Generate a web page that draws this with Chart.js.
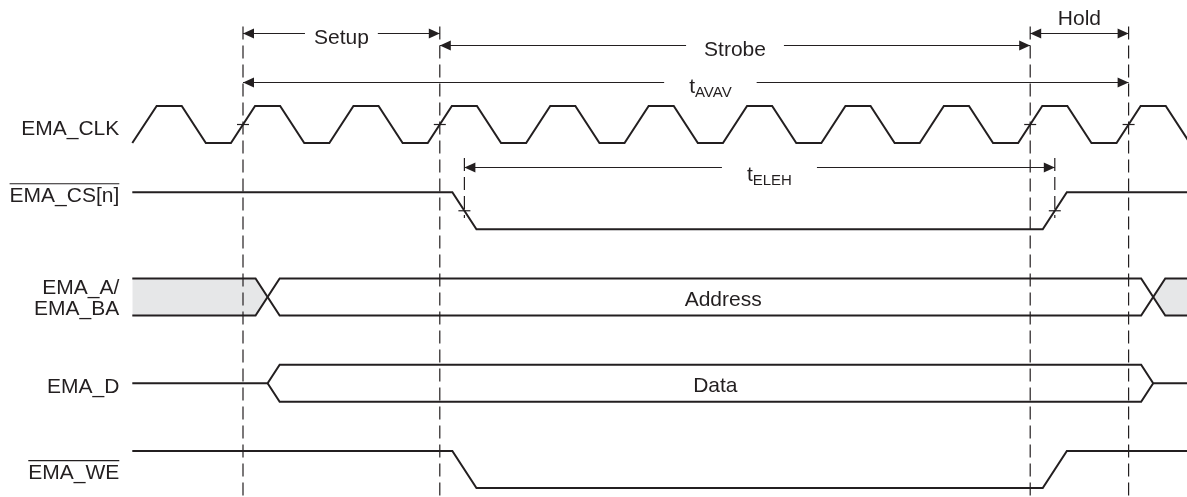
<!DOCTYPE html>
<html>
<head>
<meta charset="utf-8">
<script src="https://cdn.jsdelivr.net/npm/chart.js@4.4.0/dist/chart.umd.min.js"></script>
<style>
  html, body { margin: 0; padding: 0; background: #fff; }
  #wrap { width: 1187px; height: 497px; }
</style>
</head>
<body>
<div id="wrap"><canvas id="timing"></canvas></div>
<script>
// time is in EMA_CLK cycles, 0 = rising edge that starts Setup
const signalNames = ['EMA_CLK', 'EMA_CS[n]', 'EMA_A/\nEMA_BA', 'EMA_D', 'EMA_WE'];
const overlined   = [false, true, false, false, true];
const clkRise  = [-1, 0, 1, 2, 3, 4, 5, 6, 7, 8, 9];
const clkFall  = [-0.5, 0.5, 1.5, 2.5, 3.5, 4.5, 5.5, 6.5, 7.5, 8.5, 9.5];
const csEdges  = [2.25, 8.25];      // high -> low -> high
const weEdges  = [2.25, 8.25];
const addrEdges = [0.25, 9.25];     // address valid window
const dataEdges = [0.25, 9.25];     // data driven window
const refTimes  = [0, 2, 8, 9];     // dashed reference lines
const elehTimes = [2.25, 8.25];
const spanLabels = ['Setup', 'Strobe', 'Hold', 't|AVAV', 't|ELEH'];
const spanFrom   = [0, 2, 8, 0, 2.25];
const spanTo     = [2, 8, 9, 9, 8.25];
const spanText   = [1.0, 5.0, 8.5, 4.75, 5.35];   // where the label sits
const busText    = ['Address', 'Data'];
const busTextAt  = [4.88, 4.8];

// layout
const X_MIN = -2.4695, X_MAX = 9.5935;
const Y_MIN = -1.658, Y_MAX = 4.104;
const LEVEL = 0.429, EDGE = 0.245;
const T_START = -1.125, T_END = X_MAX + 0.2;
const INK = '#231f20', GREY = '#e6e7e8';
const FONT = '"Liberation Sans", Arial, Helvetica, sans-serif';
const spanRow = [-1.275, -1.136, -1.275, -0.707, 0.278];

const lv = (lane, level) => lane - level * LEVEL;

function digital(lane, start, edges) {
  let l = start;
  const pts = [{x: T_START, y: lv(lane, l)}];
  edges.forEach(e => {
    pts.push({x: e - EDGE / 2, y: lv(lane, l)});
    l = 1 - l;
    pts.push({x: e + EDGE / 2, y: lv(lane, l)});
  });
  pts.push({x: T_END, y: lv(lane, l)});
  return pts;
}

const clkEdges = clkRise.concat(clkFall).sort((a, b) => a - b);
const [a0, a1] = addrEdges;
const [d0, d1] = dataEdges;
const h = EDGE / 2;

function line(data, extra) {
  return Object.assign({
    data, showLine: true, borderColor: INK, borderWidth: 2, pointRadius: 0,
    fill: false, tension: 0, order: 0
  }, extra || {});
}

const datasets = [
  // grey "don't care" address areas
  line([{x: T_START, y: lv(2, 1)}, {x: a0 - h, y: lv(2, 1)}, {x: a0, y: lv(2, 0.5)}],
       {borderWidth: 0, fill: '+1', backgroundColor: GREY, order: 10}),
  line([{x: T_START, y: lv(2, 0)}, {x: a0 - h, y: lv(2, 0)}, {x: a0, y: lv(2, 0.5)}],
       {borderWidth: 0, order: 10}),
  line([{x: a1, y: lv(2, 0.5)}, {x: a1 + h, y: lv(2, 1)}, {x: T_END, y: lv(2, 1)}],
       {borderWidth: 0, fill: '+1', backgroundColor: GREY, order: 10}),
  line([{x: a1, y: lv(2, 0.5)}, {x: a1 + h, y: lv(2, 0)}, {x: T_END, y: lv(2, 0)}],
       {borderWidth: 0, order: 10}),
  line(digital(0, 0, clkEdges)),
  line(digital(1, 1, csEdges)),
  line(digital(2, 1, addrEdges)),
  line(digital(2, 0, addrEdges)),
  line([{x: T_START, y: lv(3, 0.5)}, {x: d0, y: lv(3, 0.5)}, {x: d0 + h, y: lv(3, 1)},
        {x: d1 - h, y: lv(3, 1)}, {x: d1, y: lv(3, 0.5)}, {x: T_END, y: lv(3, 0.5)}]),
  line([{x: d0, y: lv(3, 0.5)}, {x: d0 + h, y: lv(3, 0)}, {x: d1 - h, y: lv(3, 0)}, {x: d1, y: lv(3, 0.5)}]),
  line(digital(4, 1, weEdges))
];
refTimes.forEach(t => datasets.push(line([{x: t, y: -1.35}, {x: t, y: Y_MAX}],
  {borderWidth: 1.2, borderDash: [13, 6], order: 5})));
elehTimes.forEach(t => datasets.push(line([{x: t, y: 0.174}, {x: t, y: 0.87}],
  {borderWidth: 1.2, borderDash: [13, 6], order: 5})));

function arrowHead(ctx, x, y, dir) {
  ctx.beginPath();
  ctx.moveTo(x, y);
  ctx.lineTo(x + dir * 11, y - 5);
  ctx.lineTo(x + dir * 11, y + 5);
  ctx.closePath();
  ctx.fill();
}

function drawLabel(ctx, text, cx, base) {
  const parts = text.split('|');
  ctx.font = '21px ' + FONT;
  const w1 = ctx.measureText(parts[0]).width;
  let w2 = 0;
  if (parts[1]) { ctx.font = '15px ' + FONT; w2 = ctx.measureText(parts[1]).width; }
  const left = cx - (w1 + w2) / 2;
  ctx.textAlign = 'left';
  ctx.font = '21px ' + FONT;
  ctx.fillText(parts[0], left, base);
  if (parts[1]) { ctx.font = '15px ' + FONT; ctx.fillText(parts[1], left + w1, base + 4); }
  return {l: left, r: left + w1 + w2};
}

const timingText = {
  id: 'timingText',
  afterDatasetsDraw(chart) {
    const {ctx, scales: {x, y}} = chart;
    ctx.save();
    ctx.fillStyle = INK;
    ctx.strokeStyle = INK;
    ctx.textBaseline = 'alphabetic';

    // signal names
    const right = x.getPixelForValue(T_START) - 13;
    const baseOff = [[-8], [-27], [-22, -1], [-9], [-9]];
    signalNames.forEach((name, i) => {
      const low = y.getPixelForValue(i);
      ctx.font = '21px ' + FONT;
      ctx.textAlign = 'right';
      name.split('\n').forEach((s, k) => {
        ctx.fillText(s, right, low + baseOff[i][k]);
        if (overlined[i]) {
          const w = ctx.measureText(s).width;
          const oy = low + baseOff[i][k] - 18.5;
          ctx.lineWidth = 1.2;
          ctx.beginPath(); ctx.moveTo(right - w, oy); ctx.lineTo(right, oy); ctx.stroke();
        }
      });
    });

    // bus contents
    busText.forEach((s, i) => {
      drawLabel(ctx, s, x.getPixelForValue(busTextAt[i]), y.getPixelForValue(lv(2 + i, 0.5)) + 9);
    });

    // crossing ticks
    ctx.lineWidth = 1.2;
    refTimes.forEach(t => {
      const px = x.getPixelForValue(t), py = y.getPixelForValue(lv(0, 0.5));
      ctx.beginPath(); ctx.moveTo(px - 6, py); ctx.lineTo(px + 6, py); ctx.stroke();
    });
    elehTimes.forEach(t => {
      const px = x.getPixelForValue(t), py = y.getPixelForValue(lv(1, 0.5));
      ctx.beginPath(); ctx.moveTo(px - 6, py); ctx.lineTo(px + 6, py); ctx.stroke();
    });

    // dimension arrows
    const pads = [9, 18, null, 25, 25];
    const textOff = [10, 10, -9, 10, 13];
    spanLabels.forEach((lab, i) => {
      const xa = x.getPixelForValue(spanFrom[i]);
      const xb = x.getPixelForValue(spanTo[i]);
      const py = Math.round(y.getPixelForValue(spanRow[i])) + 0.5;
      const box = drawLabel(ctx, lab, x.getPixelForValue(spanText[i]), py + textOff[i]);
      ctx.lineWidth = 1.2;
      ctx.beginPath();
      if (pads[i] === null) {
        ctx.moveTo(xa, py); ctx.lineTo(xb, py);
      } else {
        ctx.moveTo(xa, py); ctx.lineTo(box.l - pads[i], py);
        ctx.moveTo(box.r + pads[i], py); ctx.lineTo(xb, py);
      }
      ctx.stroke();
      arrowHead(ctx, xa, py, 1);
      arrowHead(ctx, xb, py, -1);
    });
    ctx.restore();
  }
};

new Chart(document.getElementById('timing'), {
  type: 'scatter',
  data: { datasets },
  options: {
    responsive: true,
    maintainAspectRatio: false,
    animation: false,
    events: [],
    layout: { padding: 0 },
    plugins: { legend: { display: false }, tooltip: { enabled: false } },
    scales: {
      x: { type: 'linear', min: X_MIN, max: X_MAX, display: false },
      y: { type: 'linear', min: Y_MIN, max: Y_MAX, reverse: true, display: false }
    }
  },
  plugins: [timingText]
});
</script>
</body>
</html>
